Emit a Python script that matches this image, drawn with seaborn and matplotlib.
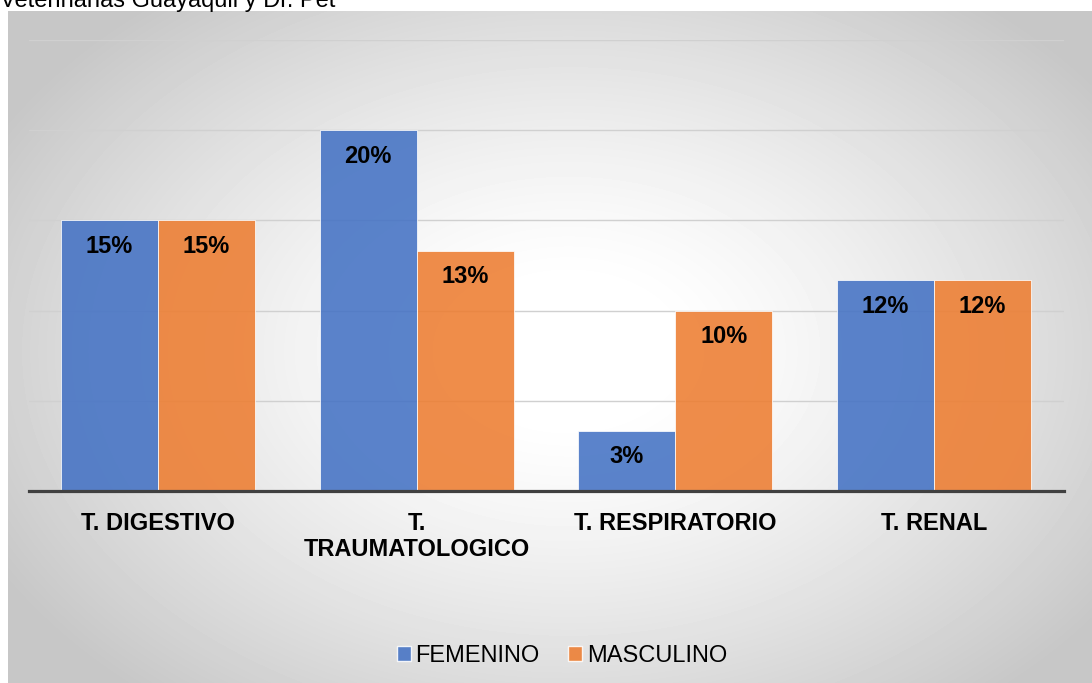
import numpy as np
import pandas as pd
import matplotlib
matplotlib.use('Agg')
import matplotlib.pyplot as plt
from matplotlib.patches import Patch
import seaborn as sns

# data (percent)
categories = ['T. DIGESTIVO', 'T.\nTRAUMATOLOGICO', 'T. RESPIRATORIO', 'T. RENAL']
series = ['FEMENINO', 'MASCULINO']
femenino = [15.0, 20.0, 3.33, 11.67]
masculino = [15.0, 13.33, 10.0, 11.67]
title_text = 'Veterinarias Guayaquil y Dr. Pet'

blue = '#4472C4'
orange = '#ED7D31'

df = pd.DataFrame({
    'categoria': categories * 2,
    'sexo': [series[0]] * len(categories) + [series[1]] * len(categories),
    'valor': femenino + masculino,
})

sns.set_style('white')
plt.rcParams['font.family'] = ['Liberation Sans', 'DejaVu Sans']
plt.rcParams['text.color'] = 'black'

W, H = 1092, 683
fig = plt.figure(figsize=(W / 100, H / 100), dpi=100)
fig.patch.set_facecolor('white')

# radial gradient background of the chart area
bg = fig.add_axes([8 / W, 0, 1 - 8 / W, (H - 11) / H])
yy, xx = np.mgrid[0:672, 0:1084]
cx, cy = 560, 340
r = np.sqrt(((xx - cx) / 620.0) ** 2 + ((yy - cy) / 430.0) ** 2)
shade = 1 - 0.22 * np.clip((r - 0.15) / 0.9, 0, 1) ** 1.3
bg.imshow(shade, cmap='gray', vmin=0, vmax=1, aspect='auto', interpolation='bilinear')
bg.set_axis_off()

fig.text(0, 1 - 7 / H, title_text, fontsize=17, ha='left', va='baseline', color='black')

ax = fig.add_axes([28.5 / W, (H - 491) / H, 1035 / W, 451 / H])
ax.patch.set_alpha(0)
sns.barplot(data=df, x='categoria', y='valor', hue='sexo', hue_order=series,
            palette=[blue, orange], saturation=1, width=0.75, gap=0, alpha=0.88,
            edgecolor='white', linewidth=0.6, legend=False, ax=ax)

ax.set_ylim(0, 25)
ax.set_yticks([5, 10, 15, 20, 25])
ax.yaxis.grid(True, color='#d0d0d0', linewidth=1)
ax.set_axisbelow(True)
ax.set_yticklabels([])
ax.tick_params(axis='y', length=0)
ax.tick_params(axis='x', length=0, pad=15, labelsize=17, labelcolor='black')
for lbl in ax.get_xticklabels():
    lbl.set_fontweight('bold')
ax.set_xlabel('')
ax.set_ylabel('')
for s in ['top', 'right', 'left']:
    ax.spines[s].set_visible(False)
ax.spines['bottom'].set_color('#404040')
ax.spines['bottom'].set_linewidth(2.3)

for cont in ax.containers:
    for bar in cont:
        h = bar.get_height()
        ax.annotate(f'{h:.0f}%', (bar.get_x() + bar.get_width() / 2, h),
                    xytext=(0, -26), textcoords='offset pixels',
                    ha='center', va='center', fontsize=17, fontweight='bold', color='black')

handles = [Patch(facecolor=blue, alpha=0.88, edgecolor='white', label=series[0]),
           Patch(facecolor=orange, alpha=0.88, edgecolor='white', label=series[1])]
fig.legend(handles=handles, loc='center', bbox_to_anchor=(562 / W, 1 - 656 / H),
           ncol=2, frameon=False, fontsize=17, handlelength=0.6, handleheight=0.6,
           handletextpad=0.2, columnspacing=1.2, labelcolor='black')

fig.savefig('out.png', dpi=100)
